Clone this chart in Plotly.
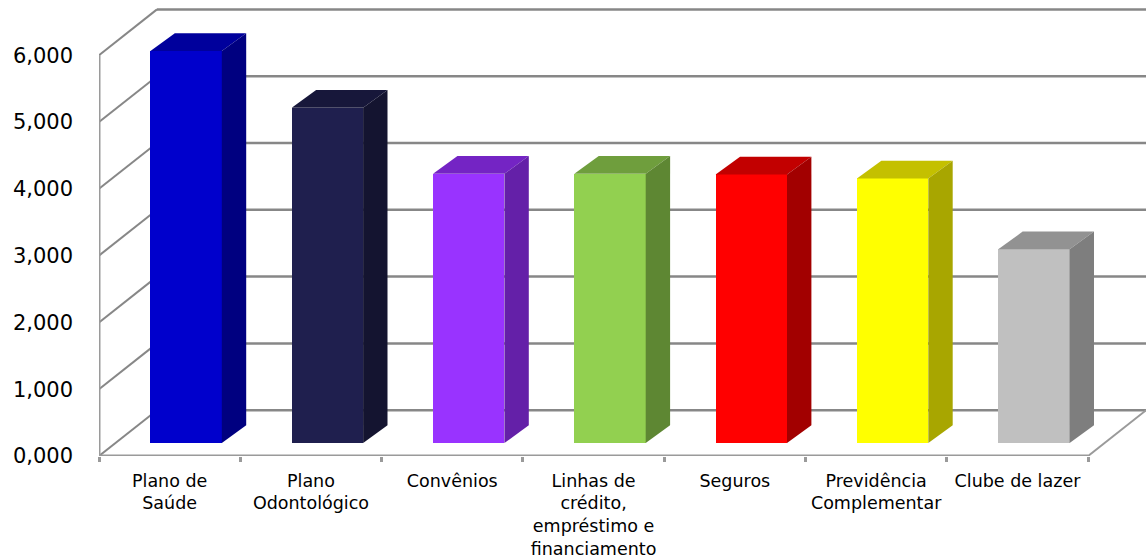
import plotly.graph_objects as go

# Benefit categories and their scores
categories = [
    "Plano de<br>Saúde",
    "Plano<br>Odontológico",
    "Convênios",
    "Linhas de<br>crédito,<br>empréstimo e<br>financiamento",
    "Seguros",
    "Previdência<br>Complementar",
    "Clube de lazer",
]
values = [5.87, 5.02, 4.03, 4.03, 4.02, 3.96, 2.90]
y_ticks = [0, 1, 2, 3, 4, 5, 6]

front_colors = ["#0000CC", "#1F1F4E", "#9933FF", "#92D050", "#FF0000", "#FFFF00", "#C0C0C0"]
top_colors = ["#00009C", "#17173A", "#7424C4", "#6F9E3D", "#C20000", "#C4C000", "#929292"]
side_colors = ["#000080", "#141430", "#6420A8", "#5E8733", "#A20000", "#A8A600", "#7E7E7E"]

# Pseudo-3D geometry (x in category units, y in value units)
CAT_PX = 141.3          # pixels per category
VAL_PX = 66.8           # pixels per value unit
WALL_DX = 58 / CAT_PX   # wall depth, horizontal
WALL_DY = 45.8 / VAL_PX # wall depth, vertical
BAR_POS = 0.284         # depth position of the bar front faces
BAR_W = 0.505
BAR_DX = 24.4 / CAT_PX
BAR_DY = 17.7 / VAL_PX

W, H = 1146, 558
M_L, M_R, M_T, M_B = 99, 0, 4, 102
n = len(categories)
x_max = (W - M_L - M_R) / CAT_PX
y_max = (H - M_T - M_B) / VAL_PX

grid_col = "#878787"
axis_col = "#9A9A9A"

fig = go.Figure()

off_x = BAR_POS * WALL_DX
off_y = BAR_POS * WALL_DY
centers = [i + 0.5 + off_x for i in range(n)]

# Front faces
fig.add_trace(go.Bar(
    x=centers, y=values, base=[off_y] * n, width=BAR_W,
    marker=dict(color=front_colors, line=dict(width=0)),
    hoverinfo="skip", showlegend=False,
))

# Top and side faces
for i, v in enumerate(values):
    x0 = centers[i] - BAR_W / 2
    x1 = centers[i] + BAR_W / 2
    top = v + off_y
    fig.add_trace(go.Scatter(
        x=[x0, x1, x1 + BAR_DX, x0 + BAR_DX, x0],
        y=[top, top, top + BAR_DY, top + BAR_DY, top],
        fill="toself", fillcolor=top_colors[i], mode="lines",
        line=dict(width=0, color=top_colors[i]),
        hoverinfo="skip", showlegend=False,
    ))
    fig.add_trace(go.Scatter(
        x=[x1, x1 + BAR_DX, x1 + BAR_DX, x1, x1],
        y=[off_y, off_y + BAR_DY, top + BAR_DY, top, off_y],
        fill="toself", fillcolor=side_colors[i], mode="lines",
        line=dict(width=0, color=side_colors[i]),
        hoverinfo="skip", showlegend=False,
    ))

shapes = []
# Back wall gridlines and left wall diagonals
for t in y_ticks:
    shapes.append(dict(type="line", x0=WALL_DX, x1=x_max, y0=t + WALL_DY, y1=t + WALL_DY,
                       line=dict(color=grid_col, width=2.5), layer="below"))
    shapes.append(dict(type="line", x0=0, x1=WALL_DX, y0=t, y1=t + WALL_DY,
                       line=dict(color=grid_col, width=2), layer="below"))
# Front edges of the box
shapes.append(dict(type="line", x0=0, x1=0, y0=0, y1=max(y_ticks),
                   line=dict(color=axis_col, width=3), layer="below"))
shapes.append(dict(type="line", x0=0, x1=n, y0=0, y1=0,
                   line=dict(color=axis_col, width=3), layer="below"))
shapes.append(dict(type="line", x0=n, x1=n + WALL_DX, y0=0, y1=WALL_DY,
                   line=dict(color=axis_col, width=2), layer="below"))

fig.update_layout(
    width=W, height=H,
    margin=dict(l=M_L, r=M_R, t=M_T, b=M_B),
    paper_bgcolor="white", plot_bgcolor="white",
    separators=",.",
    shapes=shapes,
    font=dict(family="DejaVu Sans", color="#000000"),
    bargap=0,
    xaxis=dict(
        range=[0, x_max], showgrid=False, zeroline=False, showline=False,
        tickmode="array", tickvals=[i + 0.5 for i in range(n)], ticktext=categories,
        ticks="", tickfont=dict(size=17.5), ticklabelstandoff=12,
        minor=dict(tickmode="array", tickvals=list(range(n + 1)), ticks="outside",
                   ticklen=5, tickwidth=2.5, tickcolor=axis_col, showgrid=False),
        fixedrange=True,
    ),
    yaxis=dict(
        range=[0, y_max], showgrid=False, zeroline=False, showline=False,
        tickmode="array", tickvals=y_ticks, tickformat=".3f",
        ticks="", tickfont=dict(size=21), ticklabelstandoff=25,
        fixedrange=True,
    ),
)

fig.write_html("out.html")
